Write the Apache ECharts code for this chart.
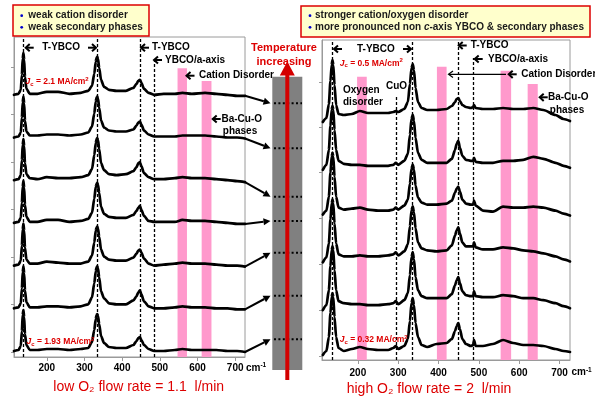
<!DOCTYPE html>
<html>
<head>
<meta charset="utf-8">
<script src="https://cdn.jsdelivr.net/npm/echarts@6/dist/echarts.min.js"></script>
<style>
  html, body { margin: 0; padding: 0; background: #fff; }
  #chart { width: 595px; height: 400px; }
</style>
</head>
<body>
<div id="chart"></div>
<script>
// ---------- data ----------
// Raman shift sampling (cm-1), low O2 flow series
const lowShift = [113, 125, 131, 134, 136, 138, 140, 142, 146, 155, 175, 200, 230, 260, 290, 310, 320, 326, 330, 332, 334, 336, 339, 344, 352, 365, 385, 410, 430, 438, 443, 447, 451, 458, 470, 485, 510, 540, 560, 585, 620, 650, 680, 705, 726];
// low O2 flow spectra, lowest growth temperature first (relative intensity)
const lowT1 = [0, 1, 5, 20, 36, 41, 34, 17, 6, 1, 1, 2, 2, 1, 2, 3, 9, 21, 32, 36, 37, 35, 27, 15, 8, 4, 3, 3, 6, 10, 13, 14, 11, 6, 2, 0, 0, 1, 2, 1, 1, 1, 0, 0, -1];
const lowT2 = [0, 1, 5, 20, 36, 42, 35, 18, 6, 1, 1, 2, 2, 1, 2, 4, 11, 25, 37, 41, 42, 40, 31, 17, 10, 5, 4, 4, 8, 12, 16, 18, 14, 7, 2, 0, 0, 1, 2, 1, 1, 0, 0, -1, -1];
const lowT3 = [0, 1, 5, 20, 36, 42, 35, 18, 6, 2, 2, 4, 3, 2, 2, 4, 10, 23, 35, 38, 39, 37, 29, 16, 9, 6, 5, 5, 8, 12, 15, 16, 13, 7, 2, 0, 1, 2, 3, 2, 2, 1, 0, 0, -1];
const lowT4 = [0, 1, 5, 20, 36, 42, 35, 18, 6, 1, 1, 3, 3, 1, 2, 4, 10, 24, 36, 39, 40, 38, 30, 16, 9, 6, 5, 5, 8, 12, 15, 17, 13, 7, 2, 1, 1, 1, 3, 2, 2, 1, 0, -1, -1];
const lowT5 = [0, 1, 5, 20, 35, 41, 34, 17, 6, 2, 1, 3, 2, 2, 3, 5, 11, 25, 37, 41, 42, 40, 31, 17, 10, 6, 5, 6, 9, 13, 17, 18, 14, 7, 3, 1, 1, 2, 3, 2, 2, 1, 0, -1, -2];
const lowT6 = [0, 1, 5, 20, 35, 41, 34, 17, 6, 2, 2, 3, 3, 2, 3, 5, 11, 24, 36, 40, 41, 39, 30, 17, 10, 7, 6, 6, 8, 12, 15, 16, 13, 7, 3, 1, 1, 1, 2, 2, 2, 1, 0, 0, -1];
const lowT7 = [0, 1, 5, 20, 36, 42, 35, 18, 6, 1, 1, 3, 3, 1, 2, 4, 9, 21, 33, 37, 38, 36, 27, 15, 8, 5, 4, 4, 7, 11, 14, 15, 12, 6, 2, 0, 1, 1, 2, 1, 2, 1, 0, -1, -1];
const lowSpectra = [lowT1, lowT2, lowT3, lowT4, lowT5, lowT6, lowT7];

// Raman shift sampling (cm-1), high O2 flow series
const highShift = [113, 122, 128, 132, 135, 137, 139, 142, 146, 152, 165, 185, 205, 225, 250, 275, 288, 294, 300, 315, 324, 329, 333, 336, 339, 343, 349, 358, 372, 395, 420, 433, 441, 445, 449, 453, 459, 468, 480, 486, 488, 492, 510, 535, 560, 585, 610, 635, 660, 690, 710, 726];
const highT1 = [0, 4, 18, 42, 58, 62, 58, 38, 18, 7, 4, 6, 8, 6, 5, 5, 7, 9, 6, 9, 16, 34, 52, 57, 50, 32, 18, 10, 8, 11, 12, 16, 24, 29, 32, 26, 16, 11, 9, 10, 15, 9, 9, 11, 15, 12, 10, 10, 9, 6, 4, 3];
const highT2 = [-2, 3, 18, 42, 58, 62, 58, 38, 18, 7, 5, 4, 4, 3, 3, 4, 5, 7, 4, 8, 15, 33, 51, 56, 49, 31, 18, 12, 10, 10, 10, 14, 23, 28, 31, 25, 17, 13, 12, 12, 17, 12, 11, 11, 13, 12, 10, 10, 8, 5, 2, 0];
const highT3 = [-1, 4, 18, 42, 58, 62, 58, 38, 18, 7, 5, 5, 6, 5, 5, 6, 7, 9, 6, 10, 17, 35, 51, 55, 49, 33, 19, 13, 11, 10, 11, 16, 26, 31, 34, 28, 19, 15, 15, 15, 19, 14, 12, 12, 14, 13, 11, 10, 8, 5, 2, 0];
const highT4 = [0, 4, 18, 42, 58, 62, 58, 38, 18, 7, 5, 6, 7, 5, 4, 4, 5, 7, 5, 9, 15, 31, 46, 50, 45, 29, 17, 12, 10, 10, 11, 14, 22, 26, 28, 23, 15, 11, 10, 10, 14, 9, 4, 3, 8, 7, 7, 8, 7, 4, 1, -1];
const highT5 = [-2, 3, 18, 42, 58, 62, 58, 38, 18, 7, 4, 3, 3, 2, 2, 2, 3, 5, 3, 7, 14, 33, 49, 53, 47, 30, 15, 8, 5, 5, 5, 9, 18, 24, 27, 20, 12, 8, 7, 7, 10, 6, 5, 5, 7, 7, 8, 11, 9, 5, 2, 0];
const highT6 = [-1, 3, 17, 40, 56, 61, 56, 36, 16, 7, 6, 7, 10, 8, 8, 8, 9, 10, 9, 12, 19, 37, 53, 57, 51, 33, 19, 13, 11, 11, 12, 15, 19, 22, 23, 20, 16, 14, 13, 14, 16, 13, 12, 12, 13, 12, 12, 13, 11, 6, 2, 0];
const highSpectra = [highT1, highT2, highT3, highT4, highT5, highT6];

const shiftTicks = [200, 300, 400, 500, 600, 700];
const lowModes = [138, 334, 447, 484];          // T-YBCO, T-YBCO, T-YBCO, YBCO/a-axis
const highModes = [137, 294, 336, 449, 487];    // T-YBCO, CuO, T-YBCO, T-YBCO, YBCO/a-axis
const lowBands = [[547, 572], [611, 637]];
const highBands = [[198, 222], [396, 420], [554, 580], [621, 646]];
const lowJc = ['2.1', '1.93'];
const highJc = ['0.5', '0.32'];

// ---------- layout ----------
const RED = '#dd0000';
const PINK = '#ff99cc';
const FRAME = '#9a9a9a';
const FONT = '"Liberation Sans", Arial, sans-serif';
const PLOT_H = 320;
const lowStack = { base: 6, step: 42.7 };
const highStack = { base: 5, step: 46.8 };
const lowGuideTop = [320, 320, 320, 299];
const highGuideTop = [320, 265, 320, 320, 302];
const lowBandTop = [288.7, 276];
const highBandTop = [283.3, 293.3, 289.3, 276];
const lowYTicks = [5, 52.5, 100, 147.5, 195, 242.5, 290];
const highYTicks = [4, 50, 96, 142, 188, 233, 278];

function spectraSeries(shift, spectra, g, stack) {
  return spectra.map((vals, i) => ({
    type: 'line', xAxisIndex: g, yAxisIndex: g, z: 10, silent: true,
    showSymbol: false, smooth: 0.25, smoothMonotone: 'x',
    lineStyle: { color: '#000', width: 2.7, cap: 'round', join: 'round' },
    data: shift.map((x, k) => [x, stack.base + i * stack.step + vals[k]])
  }));
}

function guideSeries(g, modes, guideTop, bands, bandTop) {
  return {
    type: 'line', xAxisIndex: g, yAxisIndex: g, data: [], silent: true, z: 1,
    markArea: {
      silent: true, z: 1,
      itemStyle: { color: PINK, opacity: 1 },
      label: { show: false },
      data: bands.map((b, i) => [{ coord: [b[0], 0] }, { coord: [b[1], bandTop[i]] }])
    },
    markLine: {
      silent: true, z: 2, symbol: 'none', animation: false,
      label: { show: false },
      lineStyle: { type: [3, 2], color: '#000', width: 1.3 },
      data: modes.map((m, i) => [{ coord: [m, 0] }, { coord: [m, guideTop[i]] }])
    }
  };
}

function xAxisFor(g, min, margin) {
  return {
    gridIndex: g, type: 'value', min: min, max: 726,
    axisLine: { show: true, lineStyle: { color: FRAME, width: 1 } },
    axisTick: { show: true, customValues: shiftTicks, length: 4, lineStyle: { color: FRAME } },
    axisLabel: { customValues: shiftTicks, color: '#000', fontWeight: 'bold', fontSize: 10, fontFamily: FONT, margin: margin },
    splitLine: { show: false }
  };
}

function yAxisFor(g, ticks) {
  return {
    gridIndex: g, type: 'value', min: 0, max: PLOT_H,
    axisLine: { show: true, lineStyle: { color: FRAME, width: 1 } },
    axisTick: { show: true, customValues: ticks, length: 3, lineStyle: { color: FRAME } },
    axisLabel: { show: false },
    splitLine: { show: false }
  };
}

const chart = echarts.init(document.getElementById('chart'), null, { renderer: 'canvas' });

chart.setOption({
  animation: false,
  backgroundColor: '#fff',
  grid: [
    { left: 14, top: 37, width: 231, height: PLOT_H, show: true, borderColor: FRAME, borderWidth: 1 },
    { left: 322, top: 40, width: 248, height: PLOT_H, show: true, borderColor: FRAME, borderWidth: 1 }
  ],
  xAxis: [xAxisFor(0, 113, 6), xAxisFor(1, 111, 8)],
  yAxis: [yAxisFor(0, lowYTicks), yAxisFor(1, highYTicks)],
  series: [
    guideSeries(0, lowModes, lowGuideTop, lowBands, lowBandTop),
    guideSeries(1, highModes, highGuideTop, highBands, highBandTop)
  ].concat(spectraSeries(lowShift, lowSpectra, 0, lowStack))
   .concat(spectraSeries(highShift, highSpectra, 1, highStack))
});

// ---------- annotations ----------
function txt(x, y, text, extra) {
  return { type: 'text', x: x, y: y, z: 20, silent: true,
    style: Object.assign({ text: text, fill: '#000', fontFamily: FONT, fontWeight: 'bold', fontSize: 10,
      align: 'left', verticalAlign: 'middle' }, extra || {}) };
}

// short bold arrow glyph; dir = -1 points left, +1 points right
function glyph(tipX, y, dir) {
  const tail = tipX - dir * 8;
  return [
    { type: 'line', z: 20, silent: true, shape: { x1: tail, y1: y, x2: tipX - dir * 0.5, y2: y }, style: { stroke: '#000', lineWidth: 2 } },
    { type: 'polyline', z: 20, silent: true, shape: { points: [[tipX - dir * 4, y - 3.6], [tipX, y], [tipX - dir * 4, y + 3.6]] },
      style: { stroke: '#000', lineWidth: 2, fill: null } }
  ];
}

function jc(x, y, value) {
  return { type: 'text', x: x, y: y, z: 20, silent: true,
    style: { text: '{j|J}{c|c}{t| = ' + value + ' MA/cm}{s|2}', verticalAlign: 'middle', align: 'left',
      rich: {
        j: { fill: RED, fontFamily: FONT, fontWeight: 'bold', fontStyle: 'italic', fontSize: 8.5, lineHeight: 11 },
        c: { fill: RED, fontFamily: FONT, fontWeight: 'bold', fontSize: 6, lineHeight: 6, verticalAlign: 'bottom' },
        t: { fill: RED, fontFamily: FONT, fontWeight: 'bold', fontSize: 8.5, lineHeight: 11 },
        s: { fill: RED, fontFamily: FONT, fontWeight: 'bold', fontSize: 6, lineHeight: 6, verticalAlign: 'top' }
      } } };
}

function unit(x, y) {
  return { type: 'text', x: x, y: y, z: 20, silent: true,
    style: { text: '{a|cm}{b|-1}', verticalAlign: 'middle', align: 'left',
      rich: {
        a: { fill: '#000', fontFamily: FONT, fontWeight: 'bold', fontSize: 10, lineHeight: 12 },
        b: { fill: '#000', fontFamily: FONT, fontWeight: 'bold', fontSize: 6.5, lineHeight: 7, verticalAlign: 'top' }
      } } };
}

function arrowTo(x1, y1, x2, y2) {
  const dx = x2 - x1, dy = y2 - y1, L = Math.hypot(dx, dy);
  const ux = dx / L, uy = dy / L, hl = 7, hw = 3.6;
  const bx = x2 - ux * hl, by = y2 - uy * hl;
  return [
    { type: 'line', z: 20, silent: true, shape: { x1: x1, y1: y1, x2: bx, y2: by }, style: { stroke: '#000', lineWidth: 2 } },
    { type: 'polygon', z: 20, silent: true,
      shape: { points: [[x2, y2], [bx - uy * hw, by + ux * hw], [bx + uy * hw, by - ux * hw]] },
      style: { fill: '#000' } }
  ];
}

const els = [];

// statement boxes
els.push({ type: 'rect', z: 15, silent: true, shape: { x: 13, y: 5, width: 136, height: 31 },
  style: { fill: '#ffffcc', stroke: RED, lineWidth: 1.5 } });
els.push({ type: 'rect', z: 15, silent: true, shape: { x: 301, y: 6, width: 289, height: 31 },
  style: { fill: '#ffffcc', stroke: RED, lineWidth: 1.5 } });
[[21.7, 15.7], [21.7, 27.3], [310, 15.7], [310, 27.3]].forEach(p => {
  els.push({ type: 'circle', z: 20, silent: true, shape: { cx: p[0], cy: p[1], r: 1.4 }, style: { fill: '#0000cc' } });
});
els.push(txt(28.3, 15.7, 'weak cation disorder', { fill: '#1a1a1a' }));
els.push(txt(28.3, 27.3, 'weak secondary phases', { fill: '#1a1a1a' }));
els.push(txt(315, 15.7, 'stronger cation/oxygen disorder', { fill: '#1a1a1a' }));
els.push({ type: 'text', x: 315, y: 27.3, z: 20, silent: true,
  style: { text: '{a|more pronounced non }{i|c}{a|-axis YBCO & secondary phases}', align: 'left', verticalAlign: 'middle',
    rich: {
      a: { fill: '#1a1a1a', fontFamily: FONT, fontWeight: 'bold', fontSize: 10 },
      i: { fill: '#1a1a1a', fontFamily: FONT, fontWeight: 'bold', fontStyle: 'italic', fontSize: 10 }
    } } });

// low-flow panel labels
els.push(...glyph(25.7, 47.7, -1), txt(42.3, 47.7, 'T-YBCO'), ...glyph(96, 47.7, 1));
els.push(...glyph(141, 47.7, -1), txt(152, 47.7, 'T-YBCO'));
els.push(...glyph(154, 60, -1), txt(165, 60, 'YBCO/a-axis'));
els.push(...glyph(186.5, 75.7, -1), txt(199, 75.7, 'Cation Disorder'));
els.push(...glyph(212.7, 119, -1), txt(221.5, 119, 'Ba-Cu-O'), txt(240, 131.7, 'phases', { align: 'center' }));
els.push(jc(25.5, 82, lowJc[0]), jc(26.5, 341.7, lowJc[1]));

// high-flow panel labels
els.push(...glyph(334, 49, -1), txt(357, 49, 'T-YBCO'), ...glyph(411, 49, 1));
els.push(...glyph(458.7, 45.5, -1), txt(470.7, 45.5, 'T-YBCO'));
els.push(...glyph(474.7, 59, -1), txt(488, 59, 'YBCO/a-axis'));
els.push(...glyph(508.7, 74.3, -1), txt(521.3, 74.3, 'Cation Disorder'));
els.push({ type: 'line', z: 20, silent: true, shape: { x1: 449, y1: 74.3, x2: 506, y2: 74.3 }, style: { stroke: '#000', lineWidth: 1.2 } });
els.push({ type: 'polyline', z: 20, silent: true, shape: { points: [[453, 71], [448.5, 74.3], [453, 77.6]] }, style: { stroke: '#000', lineWidth: 1.2, fill: null } });
els.push(...glyph(539.7, 97.3, -1), txt(548, 97.3, 'Ba-Cu-O'), txt(567, 110, 'phases', { align: 'center' }));
els.push(txt(343, 90, 'Oxygen'), txt(343, 102.7, 'disorder'), txt(386, 86.7, 'CuO'));
els.push(jc(339.7, 63.3, highJc[0]), jc(339.7, 340, highJc[1]));

// axis unit
els.push(unit(246, 368), unit(571.5, 372.5));

// temperature column
els.push({ type: 'rect', z: 12, silent: true, shape: { x: 272.3, y: 76.7, width: 30, height: 293.3 }, style: { fill: '#808080' } });
const dotLevels = [103.3, 148.3, 196.7, 221, 252.7, 295.7, 339.3];
dotLevels.forEach(y => {
  els.push({ type: 'line', z: 13, silent: true, shape: { x1: 274, y1: y, x2: 302, y2: y },
    style: { stroke: '#000', lineWidth: 2, lineDash: [2, 2.4] } });
});
els.push({ type: 'rect', z: 14, silent: true, shape: { x: 285.3, y: 73, width: 4, height: 307 }, style: { fill: '#d40000' } });
els.push({ type: 'polygon', z: 14, silent: true, shape: { points: [[287.3, 61.5], [279.8, 75.5], [294.8, 75.5]] }, style: { fill: '#d40000' } });
els.push(txt(284, 48.3, 'Temperature', { fill: RED, fontSize: 11, align: 'center' }));
els.push(txt(284, 62.3, 'increasing', { fill: RED, fontSize: 11, align: 'center' }));

// connectors from the end of each low-flow spectrum to its temperature mark
const order = lowSpectra.map((_, i) => i).reverse(); // top spectrum first
order.forEach((i, k) => {
  const vals = lowSpectra[i];
  const p = chart.convertToPixel({ gridIndex: 0 }, [lowShift[lowShift.length - 1], lowStack.base + i * lowStack.step + vals[vals.length - 1]]);
  els.push(...arrowTo(p[0], p[1], 270.5, dotLevels[k]));
});

// flow-rate captions
els.push({ type: 'text', x: 138.7, y: 386.7, z: 20, silent: true,
  style: { text: 'low O₂ flow rate = 1.1  l/min', fill: RED, fontFamily: FONT, fontSize: 14, align: 'center', verticalAlign: 'middle' } });
els.push({ type: 'text', x: 429, y: 389, z: 20, silent: true,
  style: { text: 'high O₂ flow rate = 2  l/min', fill: RED, fontFamily: FONT, fontSize: 14, align: 'center', verticalAlign: 'middle' } });

chart.setOption({ graphic: { elements: els } });
</script>
</body>
</html>
